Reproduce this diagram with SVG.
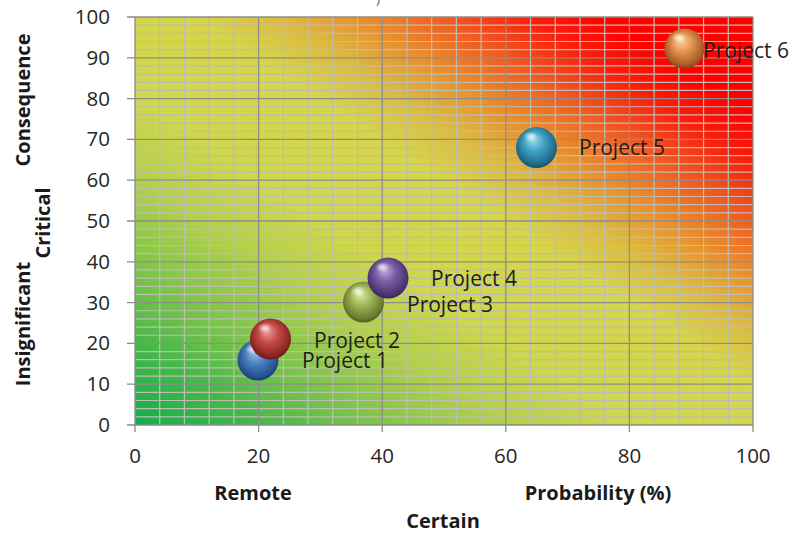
<svg xmlns="http://www.w3.org/2000/svg" width="795" height="536" viewBox="0 0 795 536">
<defs>
<linearGradient id="bg" x1="0" y1="1" x2="1" y2="0">
<stop offset="0" stop-color="#10af4b"/>
<stop offset="0.1" stop-color="#45b74a"/>
<stop offset="0.2" stop-color="#80c54b"/>
<stop offset="0.3" stop-color="#b2cf4b"/>
<stop offset="0.4" stop-color="#cfd74c"/>
<stop offset="0.55" stop-color="#d6d54b"/>
<stop offset="0.62" stop-color="#dcb840"/>
<stop offset="0.68" stop-color="#e8902e"/>
<stop offset="0.75" stop-color="#f05a22"/>
<stop offset="0.82" stop-color="#fc1c0a"/>
<stop offset="0.88" stop-color="#ff0000"/>
<stop offset="1" stop-color="#ff0000"/>
</linearGradient>
<radialGradient id="b1" cx="0.5" cy="0.45" r="0.55" fx="0.4" fy="0.28"><stop offset="0" stop-color="#a8c8ee"/><stop offset="0.45" stop-color="#4a80c2"/><stop offset="0.88" stop-color="#24508c"/><stop offset="1" stop-color="#1a3c6c"/></radialGradient>
<radialGradient id="b2" cx="0.5" cy="0.45" r="0.55" fx="0.4" fy="0.28"><stop offset="0" stop-color="#f4a8a4"/><stop offset="0.45" stop-color="#c44a46"/><stop offset="0.88" stop-color="#8a2422"/><stop offset="1" stop-color="#6a1818"/></radialGradient>
<radialGradient id="b3" cx="0.5" cy="0.45" r="0.55" fx="0.4" fy="0.28"><stop offset="0" stop-color="#e4f0b4"/><stop offset="0.45" stop-color="#a0b458"/><stop offset="0.88" stop-color="#6a7a2e"/><stop offset="1" stop-color="#505c20"/></radialGradient>
<radialGradient id="b4" cx="0.5" cy="0.45" r="0.55" fx="0.4" fy="0.28"><stop offset="0" stop-color="#ccb4e4"/><stop offset="0.45" stop-color="#7a5ca2"/><stop offset="0.88" stop-color="#4a3470"/><stop offset="1" stop-color="#382558"/></radialGradient>
<radialGradient id="b5" cx="0.5" cy="0.45" r="0.55" fx="0.4" fy="0.28"><stop offset="0" stop-color="#ace4f4"/><stop offset="0.45" stop-color="#40a0c2"/><stop offset="0.88" stop-color="#1e6a88"/><stop offset="1" stop-color="#164f66"/></radialGradient>
<radialGradient id="b6" cx="0.5" cy="0.45" r="0.55" fx="0.4" fy="0.28"><stop offset="0" stop-color="#ffdcac"/><stop offset="0.45" stop-color="#e29250"/><stop offset="0.88" stop-color="#a85c24"/><stop offset="1" stop-color="#84461a"/></radialGradient>
<radialGradient id="spec"><stop offset="0" stop-color="#ffffff" stop-opacity="0.75"/><stop offset="1" stop-color="#ffffff" stop-opacity="0"/></radialGradient>
</defs>
<style>
.minor{stroke:#bdbdb2;stroke-width:1.2;fill:none}
.major{stroke:#8e8e88;stroke-width:1.3;fill:none}
.tick{stroke:#8a8a8a;stroke-width:1.3;fill:none}
.tl{font-family:"Open Sans","Liberation Sans",sans-serif;font-size:20.5px;fill:#262626}
.ax{font-family:"Open Sans","Liberation Sans",sans-serif;font-size:20px;font-weight:bold;fill:#1a1a1a}
.pl{font-family:"Open Sans","Liberation Sans",sans-serif;font-size:21px;fill:#1e1e1e}
</style>
<rect width="795" height="536" fill="#ffffff"/>
<text x="376" y="3" style="font-family:'Open Sans',sans-serif;font-size:14px;fill:#666">)</text>
<g id="plot">
<rect x="135" y="17" width="618" height="408" fill="url(#bg)"/>
<path class="minor" d="M159.72 17V425M184.44 17V425M209.16 17V425M233.88 17V425M283.32 17V425M308.04 17V425M332.76 17V425M357.48 17V425M406.92 17V425M431.64 17V425M456.36 17V425M481.08 17V425M530.52 17V425M555.24 17V425M579.96 17V425M604.68 17V425M654.12 17V425M678.84 17V425M703.56 17V425M728.28 17V425"/>
<path class="minor" d="M135 416.84H753M135 408.68H753M135 400.52H753M135 392.36H753M135 376.04H753M135 367.88H753M135 359.72H753M135 351.56H753M135 335.24H753M135 327.08H753M135 318.92H753M135 310.76H753M135 294.44H753M135 286.28H753M135 278.12H753M135 269.96H753M135 253.64H753M135 245.48H753M135 237.32H753M135 229.16H753M135 212.84H753M135 204.68H753M135 196.52H753M135 188.36H753M135 172.04H753M135 163.88H753M135 155.72H753M135 147.56H753M135 131.24H753M135 123.08H753M135 114.92H753M135 106.76H753M135 90.44H753M135 82.28H753M135 74.12H753M135 65.96H753M135 49.64H753M135 41.48H753M135 33.32H753M135 25.16H753"/>
<path class="major" d="M135 384.2H753M135 343.4H753M135 302.6H753M135 261.8H753M135 221H753M135 180.2H753M135 139.4H753M135 98.6H753M135 57.8H753M135 17H753M258.6 17V425M382.2 17V425M505.8 17V425M629.4 17V425M753 17V425"/>
<path class="tick" d="M135 17V425H753M127 425H135M127 384.2H135M127 343.4H135M127 302.6H135M127 261.8H135M127 221H135M127 180.2H135M127 139.4H135M127 98.6H135M127 57.8H135M127 17H135M135 425V432M258.6 425V432M382.2 425V432M505.8 425V432M629.4 425V432M753 425V432"/>
</g>
<g id="y-labels" class="tl" text-anchor="end">
<text x="110" y="432">0</text>
<text x="110" y="391.2">10</text>
<text x="110" y="350.4">20</text>
<text x="110" y="309.6">30</text>
<text x="110" y="268.8">40</text>
<text x="110" y="228">50</text>
<text x="110" y="187.2">60</text>
<text x="110" y="146.4">70</text>
<text x="110" y="105.6">80</text>
<text x="110" y="64.8">90</text>
<text x="110" y="24">100</text>
</g>
<g id="x-labels" class="tl" text-anchor="middle">
<text x="135" y="463">0</text>
<text x="258.6" y="463">20</text>
<text x="382.2" y="463">40</text>
<text x="505.8" y="463">60</text>
<text x="629.4" y="463">80</text>
<text x="753" y="463">100</text>
</g>
<g id="axis-titles" class="ax" text-anchor="middle">
<text x="253" y="500">Remote</text>
<text x="598" y="500">Probability (%)</text>
<text x="443" y="528">Certain</text>
<text transform="translate(30,100) rotate(-90)">Consequence</text>
<text transform="translate(50,223) rotate(-90)">Critical</text>
<text transform="translate(30,324) rotate(-90)">Insignificant</text>
</g>
<g id="connectors"/>
<g id="project1">
<circle cx="258" cy="360" r="20.5" fill="url(#b1)"/>
<ellipse cx="252" cy="349" rx="7" ry="5" fill="url(#spec)"/>
<text class="pl" x="302" y="368">Project 1</text>
</g>
<g id="project2">
<circle cx="270.5" cy="339" r="20.5" fill="url(#b2)"/>
<ellipse cx="264.5" cy="328" rx="7" ry="5" fill="url(#spec)"/>
<text class="pl" x="314" y="348">Project 2</text>
</g>
<g id="project3">
<circle cx="363.5" cy="302" r="20.5" fill="url(#b3)"/>
<ellipse cx="357.5" cy="291" rx="7" ry="5" fill="url(#spec)"/>
<text class="pl" x="407" y="312">Project 3</text>
</g>
<g id="project4">
<circle cx="388" cy="278" r="20.5" fill="url(#b4)"/>
<ellipse cx="382" cy="267" rx="7" ry="5" fill="url(#spec)"/>
<text class="pl" x="431" y="286">Project 4</text>
</g>
<g id="project5">
<circle cx="536.5" cy="147.5" r="20.5" fill="url(#b5)"/>
<ellipse cx="530.5" cy="136.5" rx="7" ry="5" fill="url(#spec)"/>
<text class="pl" x="579" y="155">Project 5</text>
</g>
<g id="project6">
<circle cx="684.5" cy="48.5" r="20" fill="url(#b6)"/>
<ellipse cx="678.5" cy="37.5" rx="7" ry="5" fill="url(#spec)"/>
<text class="pl" x="703" y="58">Project 6</text>
</g>
</svg>
